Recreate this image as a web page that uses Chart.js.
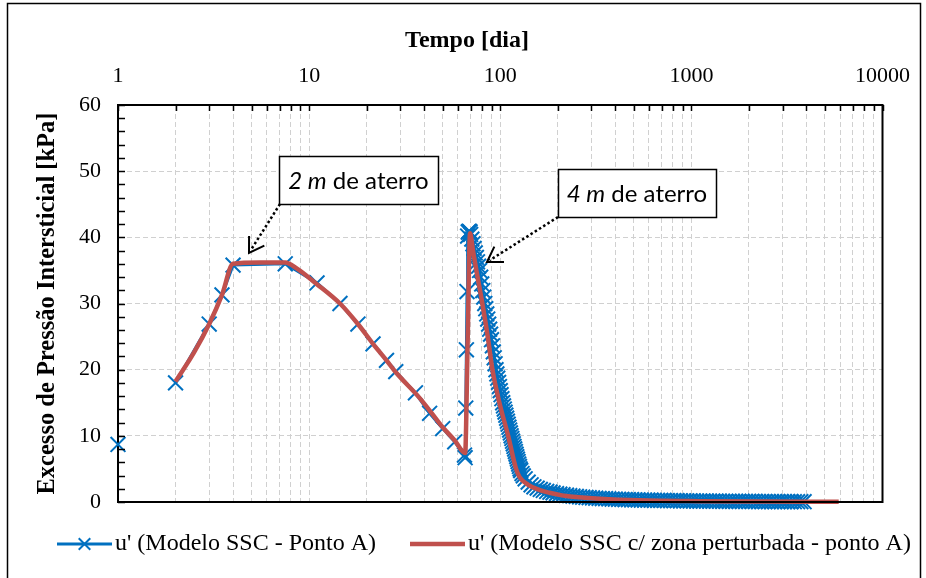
<!DOCTYPE html>
<html><head><meta charset="utf-8">
<script src="https://cdn.jsdelivr.net/npm/chart.js@4/dist/chart.umd.min.js"></script>
<style>html,body{margin:0;padding:0;background:#fff}</style>
</head><body>
<canvas id="c" width="926" height="578"></canvas>
<script>
// ---------- data ----------
const xTitle = 'Tempo [dia]';
const yTitle = 'Excesso de Pressão Intersticial [kPa]';
const xMajorTicks = [1, 10, 100, 1000, 10000];
const yTicks = [0, 10, 20, 30, 40, 50, 60];
const seriesNames = ["u' (Modelo SSC - Ponto A)", "u' (Modelo SSC c/ zona perturbada - ponto A)"];

// Series A: Modelo SSC - Ponto A (markers)
const tempoA = [1, 1.5, 2, 3, 3.5, 4, 7.5, 11, 14.5, 18, 21.6, 25.4, 28.4, 36, 42.7, 50, 57.8,
  65, 65.5, 66, 66.5, 67, 67.5, 68, 68.5, 69, 69.5,
  70, 71, 72, 73, 74, 75, 76, 77, 78, 79, 80, 81, 82, 83, 84, 85, 86, 87, 88, 89, 90, 91, 92, 93, 94, 95,
  96, 97, 98, 99, 100, 101, 102, 103, 104, 105, 106, 107, 108, 109, 110, 111, 112, 113, 114, 115, 116, 117,
  118, 119, 120, 121, 122, 123, 124, 125, 126, 127,
  128, 130, 132, 135, 140, 145, 150,
  156, 162, 168, 175, 182, 189, 197, 205, 213, 222,
  231, 240, 250, 260, 270, 281, 292, 304, 316, 329,
  342, 356, 370, 385, 400, 416, 433, 450, 468, 487,
  506, 526, 547, 569, 592, 616, 640, 666, 692, 720,
  749, 779, 810, 842, 876, 911, 947, 985, 1024, 1065,
  1108, 1152, 1198, 1246, 1296, 1348, 1402, 1458, 1516, 1577,
  1640, 1706, 1774, 1845, 1919, 1996, 2076, 2159, 2245, 2335,
  2428, 2525, 2626, 2731, 2840, 2954, 3072, 3195, 3323, 3456,
  3594, 3738, 3888];
const uA = [8.7, null, 18.0, 26.9, 31.3, 35.8, 36.0, 33.1, 30.0, 26.9, 23.9, 21.4, 19.7, 16.5, 13.4, 11.1, 9.1,
  7.1, 6.7, 14.2, 23.0, 31.8, 40.2, 40.8, 40.9, 40.9, 40.8,
  40.44, 39.73, 39.02, 38.33, 37.64, 36.97, 36.30, 35.64, 35.0, 33.97, 32.96, 31.96, 30.97, 30.0,
  29.21, 28.42, 27.65, 26.88, 26.12, 25.37, 24.53, 23.61, 22.69, 21.79, 20.89, 20.0,
  19.35, 18.71, 18.08, 17.45, 16.83, 16.22, 15.61, 15.0, 14.52, 14.05, 13.58, 13.12, 12.66, 12.21, 11.76,
  11.31, 10.87, 10.43, 10.0, 9.6, 9.19, 8.8, 8.4, 8.01, 7.63, 7.24, 6.86, 6.48, 6.11, 5.74, 5.37, 5.0,
  4.75, 4.3, 3.95, 3.5, 3.0, 2.6, 2.3,
  2.1, 1.9, 1.75, 1.6, 1.48, 1.38, 1.27, 1.18, 1.1, 1.02,
  0.95, 0.9, 0.84, 0.78, 0.73, 0.69, 0.65, 0.61, 0.58, 0.55,
  0.52, 0.5, 0.47, 0.45, 0.43, 0.41, 0.39, 0.37, 0.36, 0.34,
  0.33, 0.31, 0.3, 0.29, 0.28, 0.27, 0.26, 0.25, 0.24, 0.23,
  0.22, 0.21, 0.2, 0.19, 0.18, 0.18, 0.17, 0.16, 0.16, 0.15,
  0.15, 0.14, 0.14, 0.13, 0.13, 0.12, 0.12, 0.11, 0.11, 0.1,
  0.1, 0.1, 0.09, 0.09, 0.09, 0.08, 0.08, 0.08, 0.07, 0.07,
  0.07, 0.07, 0.06, 0.06, 0.06, 0.06, 0.06, 0.05, 0.05, 0.05,
  0.05, 0.05, 0.05];

// Series B: Modelo SSC c/ zona perturbada - ponto A (line only)
const tempoB = [2, 2.5, 3, 3.5, 4, 5.5, 7.5, 8.6, 10.9, 14.5, 18, 21.6, 25.4, 28.4, 37.9, 44.4, 50, 57.8,
  65.5, 67.5, 69.5, 72, 75, 80.6, 86, 91, 99, 110, 121, 126, 140, 161, 181, 210, 240, 331, 535, 1100, 2500, 5900];
const uB = [18.2, 22.6, 26.9, 31.3, 36.0, 36.2, 36.2, 35.3, 33.0, 30.0, 26.9, 23.9, 21.4, 19.6, 15.7, 13.2, 11.3, 9.3,
  7.4, 24.0, 40.6, 38.0, 35.0, 30.0, 25.0, 20.0, 15.0, 10.0, 5.0, 3.8, 2.6, 1.8, 1.4, 1.0, 0.8, 0.5, 0.25, 0.12, 0.06, 0.03];

const annotationsText = [
  {ital: '2 m', rest: ' de aterro'},
  {ital: '4 m', rest: ' de aterro'}
];

// ---------- build ----------
const toPts = (xs, ys) => xs.map((x, i) => ({x: x, y: ys[i]}));
const xGridValues = [];
xMajorTicks.forEach((d, i) => {
  if (i === xMajorTicks.length - 1) { xGridValues.push(d); return; }
  for (let k = 1; k <= 9; k++) xGridValues.push(d * k);
});

const BLUE = '#0070C0', RED = '#C0504D';
const SERIF = '"Liberation Serif", "Times New Roman", serif';

const decor = {
  id: 'decor',
  afterDraw(chart) {
    const ctx = chart.ctx, a = chart.chartArea, xs = chart.scales.x, ys = chart.scales.y;
    ctx.save();
    ctx.strokeStyle = '#000'; ctx.lineWidth = 2; ctx.setLineDash([]);
    ctx.beginPath();
    ctx.moveTo(a.left - 1, a.bottom); ctx.lineTo(a.right, a.bottom); ctx.lineTo(a.right, a.top - 1);
    ctx.stroke();
    ctx.lineWidth = 1.5;
    xs.ticks.forEach(t => {
      const px = Math.round(xs.getPixelForValue(t.value)) + 0.5;
      ctx.beginPath(); ctx.moveTo(px, a.top); ctx.lineTo(px, a.top + 6); ctx.stroke();
    });
    for (let v = yTicks[0]; v <= yTicks[yTicks.length - 1]; v += 2) {
      const py = Math.round(ys.getPixelForValue(v)) + 0.5;
      ctx.beginPath(); ctx.moveTo(a.left, py); ctx.lineTo(a.left + 7, py); ctx.stroke();
    }
    ctx.lineWidth = 1.5;
    ctx.strokeRect(7.5, 3.5, 913, 620);
    ctx.fillStyle = '#000';
    ctx.font = 'bold 24px ' + SERIF;
    ctx.textAlign = 'center'; ctx.textBaseline = 'middle';
    ctx.fillText(xTitle, 467, 41);

    const boxes = [
      {x: 279, y: 156, w: 159, h: 48, from: [280, 204], tip: [249, 253]},
      {x: 558, y: 169, w: 158, h: 48, from: [558, 217], tip: [487, 262]}
    ];
    boxes.forEach((b, i) => {
      const t = annotationsText[i];
      ctx.strokeStyle = '#000'; ctx.lineWidth = 2.5; ctx.setLineDash([2.5, 2.5]);
      const dx = b.from[0] - b.tip[0], dy = b.from[1] - b.tip[1];
      const L = Math.hypot(dx, dy), ux = dx / L, uy = dy / L;
      ctx.beginPath(); ctx.moveTo(b.from[0], b.from[1]); ctx.lineTo(b.tip[0] + ux * 3, b.tip[1] + uy * 3); ctx.stroke();
      ctx.setLineDash([]); ctx.lineWidth = 2;
      const ang = Math.atan2(uy, ux), wl = 17, wa = 0.56;
      ctx.beginPath();
      ctx.moveTo(b.tip[0] + Math.cos(ang + wa) * wl, b.tip[1] + Math.sin(ang + wa) * wl);
      ctx.lineTo(b.tip[0], b.tip[1]);
      ctx.lineTo(b.tip[0] + Math.cos(ang - wa) * wl, b.tip[1] + Math.sin(ang - wa) * wl);
      ctx.stroke();
      ctx.fillStyle = '#fff'; ctx.fillRect(b.x, b.y, b.w, b.h);
      ctx.lineWidth = 1.5; ctx.strokeRect(b.x + 0.5, b.y + 0.5, b.w, b.h);
      ctx.fillStyle = '#000'; ctx.textBaseline = 'middle'; ctx.textAlign = 'left';
      const fI = 'italic 24px Lato, sans-serif', fN = '24px Lato, sans-serif';
      ctx.font = fI; const w1 = ctx.measureText(t.ital).width;
      ctx.font = fN; const w2 = ctx.measureText(t.rest).width;
      const sx = b.x + (b.w - w1 - w2) / 2, sy = b.y + b.h / 2 + 1;
      ctx.font = fI; ctx.fillText(t.ital, sx, sy);
      ctx.font = fN; ctx.fillText(t.rest, sx + w1, sy);
    });

    const ds = chart.data.datasets;
    const items = [{ds: ds[1], x0: 57, x1: 112, tx: 115}, {ds: ds[0], x0: 410, x1: 465, tx: 468}];
    const ly = 544;
    items.forEach(it => {
      ctx.setLineDash([]);
      ctx.strokeStyle = it.ds.borderColor; ctx.lineWidth = it.ds.borderWidth;
      ctx.beginPath(); ctx.moveTo(it.x0, ly); ctx.lineTo(it.x1, ly); ctx.stroke();
      if (it.ds.pointRadius > 0) {
        const cx = (it.x0 + it.x1) / 2, r = it.ds.pointRadius * 0.55;
        ctx.lineWidth = it.ds.pointBorderWidth; ctx.strokeStyle = it.ds.pointBorderColor;
        ctx.beginPath();
        ctx.moveTo(cx - r, ly - r); ctx.lineTo(cx + r, ly + r);
        ctx.moveTo(cx - r, ly + r); ctx.lineTo(cx + r, ly - r);
        ctx.stroke();
      }
      ctx.fillStyle = '#000'; ctx.font = '24px ' + SERIF; ctx.textAlign = 'left'; ctx.textBaseline = 'middle';
      ctx.fillText(it.ds.label, it.tx, ly);
    });
    ctx.restore();
  }
};

new Chart(document.getElementById('c'), {
  type: 'scatter',
  data: {
    datasets: [
      {
        label: seriesNames[1], data: toPts(tempoB, uB), showLine: true,
        borderColor: RED, backgroundColor: RED, borderWidth: 4.5, pointRadius: 0,
        cubicInterpolationMode: 'monotone', order: 0, clip: false
      },
      {
        label: seriesNames[0], data: toPts(tempoA, uA), showLine: true, spanGaps: false,
        borderColor: BLUE, backgroundColor: BLUE, borderWidth: 3, tension: 0,
        pointStyle: 'crossRot', pointRadius: 10.5, pointBorderWidth: 2,
        pointBorderColor: BLUE, pointBackgroundColor: BLUE, order: 1, clip: false
      }
    ]
  },
  options: {
    responsive: false, animation: false, devicePixelRatio: 1,
    layout: {padding: {left: 0, right: 43, top: 0, bottom: 76}},
    plugins: {legend: {display: false}, tooltip: {enabled: false}},
    scales: {
      x: {
        type: 'logarithmic', position: 'top',
        min: xMajorTicks[0], max: xMajorTicks[xMajorTicks.length - 1],
        afterBuildTicks: s => { s.ticks = xGridValues.map(v => ({value: v})); },
        afterFit: s => { s.height = 105; },
        ticks: {
          autoSkip: false, maxRotation: 0, minRotation: 0, padding: 16, color: '#000',
          font: {family: SERIF, size: 22},
          callback: v => (xMajorTicks.includes(v) ? String(v) : '')
        },
        grid: {color: '#d0d0d0', lineWidth: 1, drawTicks: false},
        border: {display: true, color: '#000', width: 2, dash: [5, 3]},
        title: {display: false}
      },
      y: {
        type: 'linear', min: yTicks[0], max: yTicks[yTicks.length - 1],
        afterBuildTicks: s => { s.ticks = yTicks.map(v => ({value: v})); },
        afterFit: s => { s.width = 118; },
        ticks: {padding: 17, color: '#000', font: {family: SERIF, size: 22}},
        grid: {color: '#d0d0d0', lineWidth: 1, drawTicks: false},
        border: {display: true, color: '#000', width: 2, dash: [5, 3]},
        title: {
          display: true, text: yTitle, color: '#000',
          font: {family: SERIF, size: 24.5, weight: 'bold'},
          padding: {top: 33, bottom: 0}
        }
      }
    }
  },
  plugins: [decor]
});
</script>
</body></html>
